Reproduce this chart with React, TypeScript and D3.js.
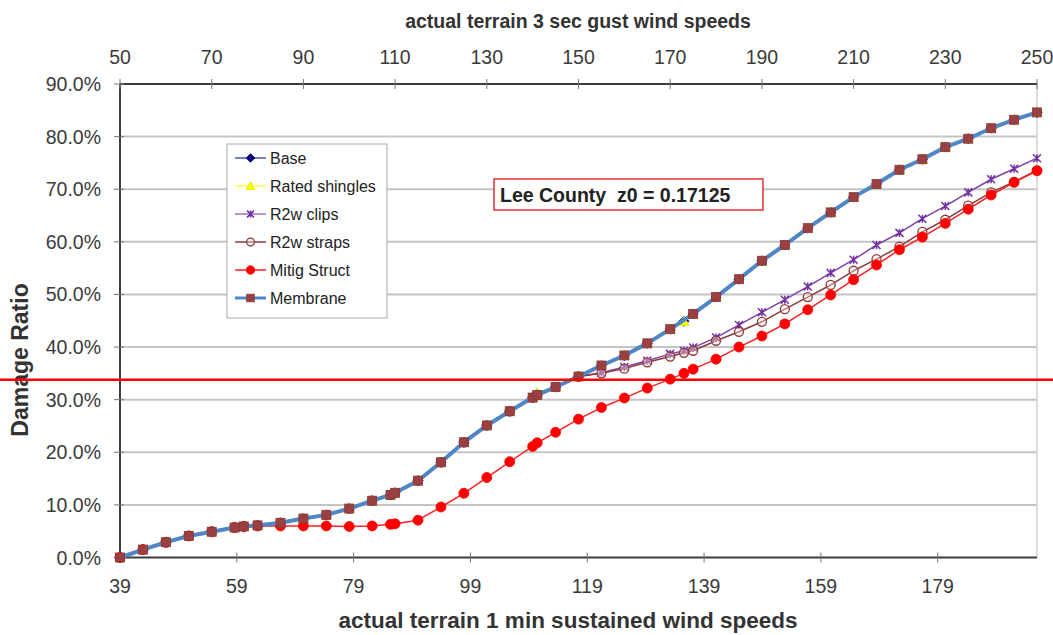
import React from "react";
import * as d3 from "d3";

const W = 1053;
const H = 635;

// x values: 3 sec gust wind speed (top axis units)
const gust = [50, 55, 60, 65, 70, 75, 77, 80, 85, 90, 95, 100, 105, 109, 110, 115, 120, 125, 130, 135, 140, 141, 145, 150, 155, 160, 165, 170, 173, 175, 180, 185, 190, 195, 200, 205, 210, 215, 220, 225, 230, 235, 240, 245, 250];

// damage ratio in %
const base = [0, 1.5, 2.9, 4.1, 4.9, 5.7, 5.9, 6.1, 6.6, 7.4, 8.1, 9.3, 10.8, 11.9, 12.3, 14.6, 18.1, 21.9, 25.1, 27.8, 30.4, 30.9, 32.4, 34.4, 36.5, 38.4, 40.7, 43.4, 44.9, 46.3, 49.5, 52.9, 56.4, 59.4, 62.6, 65.6, 68.5, 71.0, 73.7, 75.7, 78.0, 79.6, 81.6, 83.2, 84.6];
const ratedShingles = [0, 1.5, 2.9, 4.1, 4.9, 5.7, 5.9, 6.1, 6.6, 7.4, 8.1, 9.3, 10.8, 11.9, 12.3, 14.6, 18.1, 21.9, 25.1, 27.8, 30.4, 31.3, 32.4, 34.4, 36.5, 38.4, 40.7, 43.4, 44.9, 46.3, 49.5, 52.9, 56.4, 59.4, 62.6, 65.6, 68.5, 71.0, 73.7, 75.7, 78.0, 79.6, 81.6, 83.2, 84.6];
const r2wClips = [0, 1.5, 2.9, 4.1, 4.9, 5.7, 5.9, 6.1, 6.6, 7.4, 8.1, 9.3, 10.8, 11.9, 12.3, 14.6, 18.1, 21.9, 25.1, 27.8, 30.4, 30.9, 32.4, 34.4, 35.1, 36.2, 37.4, 38.7, 39.3, 39.9, 41.8, 44.2, 46.6, 49.0, 51.5, 54.1, 56.6, 59.4, 61.7, 64.4, 66.8, 69.4, 71.9, 73.9, 75.9];
const r2wStraps = [0, 1.5, 2.9, 4.1, 4.9, 5.7, 5.9, 6.1, 6.6, 7.4, 8.1, 9.3, 10.8, 11.9, 12.3, 14.6, 18.1, 21.9, 25.1, 27.8, 30.4, 30.9, 32.4, 34.4, 35.0, 35.9, 37.1, 38.2, 38.9, 39.3, 41.2, 42.9, 44.8, 47.2, 49.5, 51.8, 54.5, 56.7, 59.1, 61.9, 64.2, 66.9, 69.4, 71.4, 73.6];
const mitigStruct = [0, 1.5, 2.9, 4.1, 4.9, 5.7, 5.9, 6.0, 6.0, 6.0, 6.0, 5.9, 6.0, 6.3, 6.4, 7.1, 9.6, 12.2, 15.2, 18.2, 21.1, 21.8, 23.8, 26.3, 28.5, 30.3, 32.2, 33.9, 35.0, 35.8, 37.7, 40.0, 42.1, 44.4, 47.1, 49.9, 52.8, 55.6, 58.5, 60.9, 63.5, 66.2, 68.9, 71.3, 73.5];
const membrane = [0, 1.5, 2.9, 4.1, 4.9, 5.7, 5.9, 6.1, 6.6, 7.4, 8.1, 9.3, 10.8, 11.9, 12.3, 14.6, 18.1, 21.9, 25.1, 27.8, 30.4, 30.9, 32.4, 34.4, 36.5, 38.4, 40.7, 43.4, null, 46.3, 49.5, 52.9, 56.4, 59.4, 62.6, 65.6, 68.5, 71.0, 73.7, 75.7, 78.0, 79.6, 81.6, 83.2, 84.6];

const seriesNames = ["Base", "Rated shingles", "R2w clips", "R2w straps", "Mitig Struct", "Membrane"];

const topTicks = [50, 70, 90, 110, 130, 150, 170, 190, 210, 230, 250];
const bottomTicks = [39, 59, 79, 99, 119, 139, 159, 179];
const yTicks = [0, 10, 20, 30, 40, 50, 60, 70, 80, 90];

const topTitle = "actual terrain 3 sec gust wind speeds";
const bottomTitle = "actual terrain 1 min sustained wind speeds";
const yTitle = "Damage Ratio";
const annotation = "Lee County  z0 = 0.17125";
const thresholdValue = 33.8;

type Style = { line: string; lw: number; marker: string; fill: string; stroke: string; size: number; legendLine: string };
const styles: Style[] = [
  { line: "#1f2a8a", lw: 1.5, marker: "diamond", fill: "#000080", stroke: "#000080", size: 5, legendLine: "#4656a8" },
  { line: "#ffff00", lw: 1.5, marker: "triangle", fill: "#ffff00", stroke: "#e8e800", size: 5, legendLine: "#ffff40" },
  { line: "#8040a8", lw: 1.5, marker: "star", fill: "none", stroke: "#7030a0", size: 4, legendLine: "#a070c0" },
  { line: "#8b3a3a", lw: 1.5, marker: "ocircle", fill: "rgba(255,230,230,0.4)", stroke: "#8b3a3a", size: 4.5, legendLine: "#8b3a3a" },
  { line: "#ff2020", lw: 1.5, marker: "circle", fill: "#ff0000", stroke: "#ff0000", size: 5, legendLine: "#ff2020" },
  { line: "#4f86c6", lw: 4, marker: "square", fill: "#9b4040", stroke: "#8a3a3a", size: 4.5, legendLine: "#4f86c6" },
];

const seriesValues = [base, ratedShingles, r2wClips, r2wStraps, mitigStruct, membrane];

function Marker({ kind, x, y, s, fill, stroke }: { kind: string; x: number; y: number; s: number; fill: string; stroke: string }) {
  if (kind === "square") return <rect x={x - s} y={y - s} width={2 * s} height={2 * s} fill={fill} stroke={stroke} strokeWidth={0.8} />;
  if (kind === "circle") return <circle cx={x} cy={y} r={s} fill={fill} stroke={stroke} strokeWidth={0.8} />;
  if (kind === "ocircle") return <circle cx={x} cy={y} r={s} fill={fill} stroke={stroke} strokeWidth={1.3} />;
  if (kind === "diamond") return <path d={`M${x},${y - s}L${x + s},${y}L${x},${y + s}L${x - s},${y}Z`} fill={fill} stroke={stroke} />;
  if (kind === "triangle") return <path d={`M${x},${y - s}L${x + s},${y + s * 0.8}L${x - s},${y + s * 0.8}Z`} fill={fill} stroke={stroke} />;
  if (kind === "star")
    return (
      <path
        d={`M${x - s},${y - s}L${x + s},${y + s}M${x - s},${y + s}L${x + s},${y - s}M${x},${y - s}L${x},${y + s}`}
        stroke={stroke}
        strokeWidth={1.5}
        fill="none"
      />
    );
  return null;
}

export default function App() {
  const left = 120;
  const right = 1037;
  const top = 84;
  const bottom = 557.5;

  const x = d3.scaleLinear().domain([50, 250]).range([left, right]);
  const xb = d3.scaleLinear().domain([39, 196]).range([left, right]);
  const y = d3.scaleLinear().domain([0, 90]).range([bottom, top]);

  const line = d3
    .line<[number, number]>()
    .x((d) => x(d[0]))
    .y((d) => y(d[1]));

  const font = "Arial, 'Liberation Sans', sans-serif";
  const tickColor = "#3a3a3a";
  const tickFont = 19.5;

  const legend = { x: 227, y: 144, w: 160, h: 174 };
  const legendRowY = (i: number) => 158 + i * 28;

  return (
    <svg width={W} height={H} style={{ position: "absolute", left: 0, top: 0, background: "#fff" }} fontFamily={font}>
      {/* gridlines */}
      {yTicks
        .filter((t) => t > 0 && t < 90)
        .map((t) => (
          <line key={"g" + t} x1={left} x2={right} y1={y(t)} y2={y(t)} stroke="#c4c4c4" strokeWidth={2} />
        ))}
      {/* right border */}
      <line x1={right} x2={right} y1={top} y2={bottom} stroke="#d0d0d0" strokeWidth={1.5} />
      {/* axes */}
      <line x1={left} x2={right} y1={top} y2={top} stroke="#3c3c3c" strokeWidth={2} />
      <line x1={left} x2={right} y1={bottom} y2={bottom} stroke="#3c3c3c" strokeWidth={2} />
      <line x1={left} x2={left} y1={top} y2={bottom} stroke="#3c3c3c" strokeWidth={2} />

      {/* y ticks */}
      {yTicks.map((t) => (
        <g key={"y" + t}>
          <line x1={left - 6} x2={left + 4} y1={y(t)} y2={y(t)} stroke="#777" strokeWidth={1} />
          <text x={101} y={y(t)} dy="0.36em" textAnchor="end" fontSize={tickFont} fill={tickColor}>
            {t.toFixed(1) + "%"}
          </text>
        </g>
      ))}
      {/* top ticks */}
      {topTicks.map((t) => (
        <g key={"t" + t}>
          <line x1={x(t)} x2={x(t)} y1={top - 5} y2={top + 5} stroke="#777" strokeWidth={1} />
          <text x={x(t)} y={64} textAnchor="middle" fontSize={tickFont} fill={tickColor}>
            {t}
          </text>
        </g>
      ))}
      {/* bottom ticks */}
      {bottomTicks.map((t) => (
        <g key={"b" + t}>
          <line x1={xb(t)} x2={xb(t)} y1={bottom - 5} y2={bottom + 5} stroke="#777" strokeWidth={1} />
          <text x={xb(t)} y={593} textAnchor="middle" fontSize={tickFont} fill={tickColor}>
            {t}
          </text>
        </g>
      ))}

      {/* titles */}
      <text x={578} y={28} textAnchor="middle" fontSize={19.5} fontWeight="bold" fill="#333">
        {topTitle}
      </text>
      <text x={568} y={628} textAnchor="middle" fontSize={22.5} fontWeight="bold" fill="#333">
        {bottomTitle}
      </text>
      <text transform="translate(27.5,360) rotate(-90)" textAnchor="middle" fontSize={23} fontWeight="bold" fill="#333">
        {yTitle}
      </text>

      {/* series */}
      {seriesValues.map((vals, i) => {
        const st = styles[i];
        const pts: [number, number][] = [];
        gust.forEach((g, k) => {
          const v = vals[k];
          if (v !== null && v !== undefined) pts.push([g, v as number]);
        });
        return (
          <g key={"s" + i}>
            <path d={line(pts) || ""} fill="none" stroke={st.line} strokeWidth={st.lw} strokeLinejoin="round" />
            {pts.map((p, k) => (
              <Marker key={k} kind={st.marker} x={x(p[0])} y={y(p[1])} s={st.size} fill={st.fill} stroke={st.stroke} />
            ))}
          </g>
        );
      })}

      {/* legend */}
      <rect x={legend.x} y={legend.y} width={legend.w} height={legend.h} fill="#fff" stroke="#a8a8a8" strokeWidth={1} />
      {seriesNames.map((n, i) => {
        const st = styles[i];
        const ly = legendRowY(i);
        return (
          <g key={"l" + i}>
            <line x1={235} x2={266} y1={ly} y2={ly} stroke={st.legendLine} strokeWidth={i === 5 ? 3 : 1.5} />
            <Marker kind={st.marker} x={250.5} y={ly} s={st.size * 0.85} fill={st.fill} stroke={st.stroke} />
            <text x={270} y={ly} dy="0.35em" fontSize={16} fill="#222">
              {n}
            </text>
          </g>
        );
      })}

      {/* annotation box */}
      <rect x={494} y={179} width={269} height={31} fill="#fff" stroke="#e83030" strokeWidth={1.5} />
      <text x={500} y={202} fontSize={19.5} fontWeight="bold" fill="#222" style={{ whiteSpace: "pre" }} xmlSpace="preserve">
        {annotation}
      </text>

      {/* red threshold line across the whole image */}
      <line x1={0} x2={W} y1={y(thresholdValue)} y2={y(thresholdValue)} stroke="#ff0000" strokeWidth={2.5} />
    </svg>
  );
}
